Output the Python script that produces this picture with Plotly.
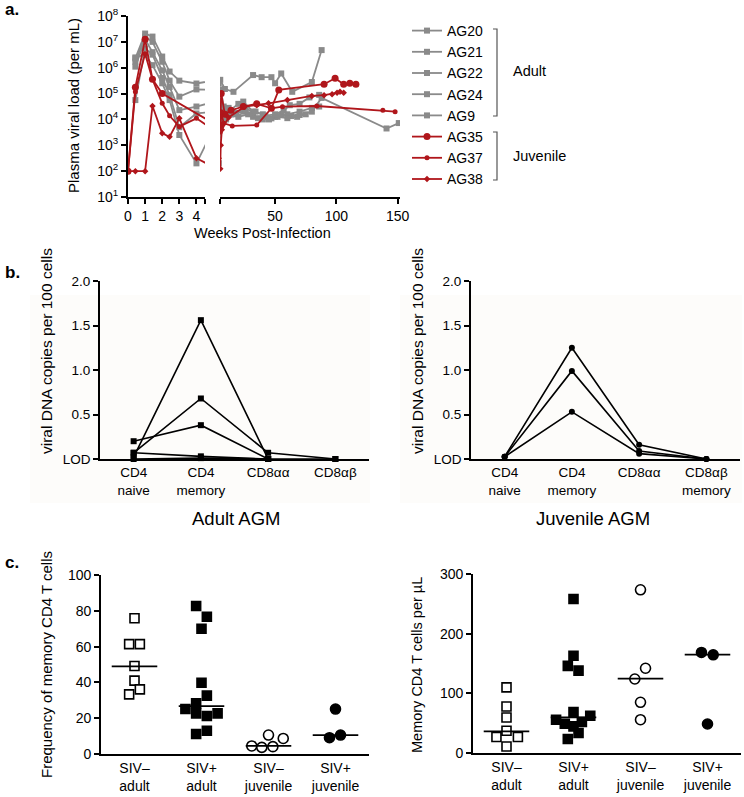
import plotly.graph_objects as go

W, H = 744, 797


def px(x):
    return x / W


def py(y):
    return 1 - y / H


FONT = "Liberation Sans, Arial, Helvetica, sans-serif"
GRAY = "#8a8a8a"
RED = "#b0161b"

# ---------------- Panel a: plasma viral load ----------------
animals_a = ["AG20", "AG21", "AG22", "AG24", "AG9", "AG35", "AG37", "AG38"]

weeks_AG20 = [0.43, 1, 1.43, 2, 2.43, 3, 4, 5.2, 9, 16, 32, 39, 47, 50, 55, 64, 80, 88]
load_AG20 = [2.3e6, 2.1e7, 1.6e7, 2.7e6, 7.1e5, 3.16e5, 2.45e5, 3.4e5, 1.5e5, 1.17e5,
             5.2e5, 4.3e5, 4.3e5, 2.5e5, 6e5, 1.17e5, 2.8e5, 4.8e6]

weeks_AG21 = [0.43, 1, 1.43, 2, 2.43, 3, 4, 5.2, 8, 12, 20, 24, 32, 40, 47, 55, 63, 70, 80, 88, 141, 151]
load_AG21 = [1.7e6, 1.6e7, 1e7, 1.7e6, 3.16e5, 7.6e4, 1.45e5, 1.38e5, 3.16e4, 2e4, 4e4, 4.9e4,
             2e4, 1.58e4, 1.1e4, 1.48e4, 1.35e4, 1.48e4, 2e4, 6.8e4, 4.47e3, 7.24e3]

weeks_AG22 = [0.43, 1, 1.43, 2, 2.43, 3, 4, 5.2, 10, 16, 24, 32, 40, 50, 60, 70, 80, 86]
load_AG22 = [1.1e6, 1.26e7, 4e6, 7.9e5, 1.8e5, 2.29e4, 3.16e4, 5.1e4, 1e4, 1.58e4, 2e4,
             1.26e4, 1e4, 1.26e4, 1.58e4, 2e4, 2.8e4, 3.16e4]

weeks_AG24 = [0.43, 1, 1.43, 2, 2.43, 3, 4, 5.2, 9, 14, 20, 28, 36, 45, 52, 60, 68, 75]
load_AG24 = [5.6e4, 5.6e6, 3.2e6, 4e5, 8.7e4, 5e3, 1.7e4, 2e4, 2.5e4, 1.58e4, 1.26e4,
             1.58e4, 1.12e4, 1e4, 1.26e4, 1.12e4, 1.26e4, 1.58e4]

weeks_AG9 = [0.43, 1, 1.43, 2, 2.43, 3, 4, 5.2, 7, 12, 18, 26, 34, 42, 50, 57, 62, 70, 78, 86]
load_AG9 = [2.5e6, 3.2e6, 1.26e6, 2.5e5, 5.6e4, 2.5e3, 200, 8.13e3, 1.58e4, 2.8e4, 1.78e4,
            2.5e4, 2e4, 1.41e4, 1.58e4, 2.24e4, 3.55e4, 4e4, 7.1e4, 8.9e4]

weeks_AG35 = [0, 0.43, 1, 1.43, 2, 5.2, 6, 9, 14, 24, 35, 47, 53, 90, 99, 106, 111, 116]
load_AG35 = [100, 1.74e5, 1.26e7, 3.55e5, 1e5, 5.89e3, 1e5, 1.58e4, 2.24e4, 3.16e4, 4e4,
             2.7e4, 1.38e5, 2.3e5, 3.9e5, 2.3e5, 2.5e5, 2.3e5]

weeks_AG37 = [0, 0.43, 1, 1.43, 2, 2.43, 3, 4, 5.2, 6, 8, 15, 35, 47, 56, 84, 138, 148]
load_AG37 = [100, 1.17e5, 3.5e6, 3.55e5, 4.2e4, 1.38e4, 5.25e3, 1.1e4, 3.24e3, 2e4, 7.08e3,
             5.62e3, 6.03e3, 2.7e4, 3.1e4, 3.3e4, 2.24e4, 2e4]

weeks_AG38 = [0, 0.43, 1, 1.43, 2, 2.43, 3, 4, 5.2, 5.6, 6.5, 12, 25, 35, 44.6, 60, 80, 90,
              96.5, 100.6, 103, 106]
load_AG38 = [100, 100, 100, 3.3e4, 2.9e3, 2.14e3, 1.1e4, 316, 123, 1000, 4000, 1.2e4, 3.1e4,
             3.55e4, 4.2e4, 5.6e4, 8.1e4, 8.7e4, 9.5e4, 1.07e5, 1.17e5, 1.07e5]

weeks_a = [weeks_AG20, weeks_AG21, weeks_AG22, weeks_AG24, weeks_AG9, weeks_AG35, weeks_AG37, weeks_AG38]
loads_a = [load_AG20, load_AG21, load_AG22, load_AG24, load_AG9, load_AG35, load_AG37, load_AG38]

a_yticks = [1e1, 1e2, 1e3, 1e4, 1e5, 1e6, 1e7, 1e8]
a_ytick_text = ["10<sup>%d</sup>" % i for i in range(1, 9)]
a_xticks_left = [0, 1, 2, 3, 4, 4.5]
a_xtick_text_left = ["0", "1", "2", "3", "4", ""]
a_xticks_right = [5, 50, 100, 150]
a_xtick_text_right = ["", "50", "100", "150"]

# ---------------- Panel b: viral DNA ----------------
b_cats_adult = ["CD4<br>naive", "CD4<br>memory", "CD8αα", "CD8αβ"]
b_cats_juv = ["CD4<br>naive", "CD4<br>memory", "CD8αα", "CD8αβ<br>memory"]
b_adult_1 = [0.02, 1.56, 0.0, None]
b_adult_2 = [0.07, 0.68, 0.07, 0.0]
b_adult_3 = [0.20, 0.38, 0.0, None]
b_adult_4 = [0.07, 0.03, 0.0, None]
b_adult_5 = [0.0, 0.01, 0.0, 0.0]
b_juv_1 = [0.025, 1.25, 0.16, 0.0]
b_juv_2 = [0.025, 0.99, 0.09, 0.0]
b_juv_3 = [0.025, 0.53, 0.06, 0.0]
b_yticks = [0, 0.5, 1.0, 1.5, 2.0]
b_ytick_text = ["LOD", "0.5", "1.0", "1.5", "2.0"]

# ---------------- Panel c: memory CD4 ----------------
c_cats = ["SIV–<br>adult", "SIV+<br>adult", "SIV–<br>juvenile", "SIV+<br>juvenile"]
c_freq_neg_adult = [75.8, 61.4, 61.4, 49.2, 41.0, 36.1, 33.3]
c_freq_pos_adult = [82.7, 76.7, 70.0, 39.8, 32.6, 28.3, 25.1, 22.7, 21.2, 22.7, 11.2, 13.0]
c_freq_neg_juv = [4.5, 3.7, 4.1, 10.6, 8.7]
c_freq_pos_juv = [25.1, 9.1, 10.6]
c_freq_medians = [49.0, 26.8, 4.5, 10.6]

c_cnt_neg_adult = [110, 78, 59.6, 37.3, 26.8, 26.8, 11]
c_cnt_pos_adult = [258, 163, 146, 138, 68.6, 55.8, 62.5, 49, 52, 44.6, 33.5, 23.4]
c_cnt_neg_juv = [273.5, 142, 124, 85, 55.8]
c_cnt_pos_juv = [168.5, 164.6, 48.6]
c_cnt_medians = [36.2, 59.6, 124.5, 165]

# horizontal scatter offsets (layout only)
off_freq = [
    [0, -0.08, 0.08, 0, 0, 0.08, -0.08],
    [-0.08, 0.08, 0, 0, 0.08, -0.08, -0.24, -0.08, 0.08, 0.24, -0.08, 0.08],
    [-0.25, -0.1, 0.065, 0, 0.22],
    [0, -0.09, 0.075],
]
off_cnt = [
    [0, 0, 0, 0, -0.15, 0.17, 0],
    [0, 0, -0.085, 0.075, 0, -0.26, 0.25, -0.13, 0.125, 0, 0.075, -0.085],
    [0, 0.075, -0.085, 0, 0],
    [-0.09, 0.085, 0],
]

fig = go.Figure()

# ----- panel a traces -----
styles = {
    "AG20": dict(color=GRAY, symbol="square", size=6),
    "AG21": dict(color=GRAY, symbol="square", size=6),
    "AG22": dict(color=GRAY, symbol="square", size=6),
    "AG24": dict(color=GRAY, symbol="square", size=6),
    "AG9": dict(color=GRAY, symbol="square", size=6),
    "AG35": dict(color=RED, symbol="circle", size=7),
    "AG37": dict(color=RED, symbol="circle", size=5),
    "AG38": dict(color=RED, symbol="diamond", size=5),
}
for name, wk, ld in zip(animals_a, weeks_a, loads_a):
    st = styles[name]
    for xa, show in (("x", True), ("x2", False)):
        fig.add_trace(go.Scatter(
            x=wk, y=ld, mode="lines+markers", name=name, legendgroup=name,
            showlegend=show, xaxis=xa, yaxis="y",
            line=dict(color=st["color"], width=1.8),
            marker=dict(color=st["color"], symbol=st["symbol"], size=st["size"]),
            cliponaxis=True,
        ))

# ----- panel b traces -----
for vals in (b_adult_1, b_adult_2, b_adult_3, b_adult_4, b_adult_5):
    fig.add_trace(go.Scatter(
        x=list(range(4)), y=vals, mode="lines+markers", showlegend=False,
        xaxis="x3", yaxis="y3", connectgaps=False, cliponaxis=False,
        line=dict(color="black", width=1.6),
        marker=dict(color="black", symbol="square", size=6),
    ))
for vals in (b_juv_1, b_juv_2, b_juv_3):
    fig.add_trace(go.Scatter(
        x=list(range(4)), y=vals, mode="lines+markers", showlegend=False,
        xaxis="x4", yaxis="y4", cliponaxis=False,
        line=dict(color="black", width=1.6),
        marker=dict(color="black", symbol="circle", size=6),
    ))

# ----- panel c traces -----
c_symbols = ["square", "square", "circle", "circle"]
c_fill = ["white", "black", "white", "black"]


def add_c(groups, offsets, medians, xa, ya):
    for i, (vals, offs) in enumerate(zip(groups, offsets)):
        fig.add_trace(go.Scatter(
            x=[i + o for o in offs], y=vals, mode="markers", showlegend=False,
            xaxis=xa, yaxis=ya, cliponaxis=False,
            marker=dict(symbol=c_symbols[i], size=9 if c_symbols[i] == "square" else 10,
                        color=c_fill[i], line=dict(color="black", width=1.6)),
        ))
        fig.add_trace(go.Scatter(
            x=[i - 0.34, i + 0.34], y=[medians[i], medians[i]], mode="lines",
            showlegend=False, xaxis=xa, yaxis=ya,
            line=dict(color="black", width=1.8),
        ))


add_c([c_freq_neg_adult, c_freq_pos_adult, c_freq_neg_juv, c_freq_pos_juv],
      off_freq, c_freq_medians, "x5", "y5")
add_c([c_cnt_neg_adult, c_cnt_pos_adult, c_cnt_neg_juv, c_cnt_pos_juv],
      off_cnt, c_cnt_medians, "x6", "y6")

axis_common = dict(showline=True, linecolor="black", linewidth=1.8, showgrid=False,
                   zeroline=False, ticks="outside", ticklen=5, tickwidth=1.5,
                   tickcolor="black", automargin=False,
                   tickfont=dict(family=FONT, size=14, color="black"))
b_tick = dict(family=FONT, size=13.5, color="black")
c_tick = dict(family=FONT, size=14, color="black")
cat_axis = dict(axis_common, ticks="")

fig.update_layout(
    width=W, height=H, margin=dict(l=0, r=0, t=0, b=0),
    paper_bgcolor="white", plot_bgcolor="rgba(0,0,0,0)",
    font=dict(family=FONT, color="black"),
    xaxis=dict(axis_common, domain=[px(128), px(205)], range=[0, 4.5], anchor="y",
               tickvals=a_xticks_left, ticktext=a_xtick_text_left),
    xaxis2=dict(axis_common, domain=[px(220), px(400)], range=[5, 152], anchor="y",
                tickvals=a_xticks_right, ticktext=a_xtick_text_right),
    yaxis=dict(axis_common, domain=[py(197), py(16)], type="log", range=[1, 8], anchor="x",
               tickvals=a_yticks, ticktext=a_ytick_text),
    xaxis3=dict(cat_axis, domain=[px(100), px(369)], range=[-0.5, 3.5], anchor="y3",
                tickvals=list(range(4)), ticktext=b_cats_adult, tickfont=b_tick),
    yaxis3=dict(axis_common, domain=[py(459), py(281)], range=[0, 2], anchor="x3",
                tickvals=b_yticks, ticktext=b_ytick_text, tickfont=b_tick),
    xaxis4=dict(cat_axis, domain=[px(471), px(740)], range=[-0.5, 3.5], anchor="y4",
                tickvals=list(range(4)), ticktext=b_cats_juv, tickfont=b_tick),
    yaxis4=dict(axis_common, domain=[py(459), py(281)], range=[0, 2], anchor="x4",
                tickvals=b_yticks, ticktext=b_ytick_text, tickfont=b_tick),
    xaxis5=dict(cat_axis, domain=[px(101), px(369)], range=[-0.5, 3.5], anchor="y5",
                tickvals=list(range(4)), ticktext=c_cats, tickfont=c_tick),
    yaxis5=dict(axis_common, domain=[py(754), py(575)], range=[0, 100], anchor="x5",
                tickvals=[0, 20, 40, 60, 80, 100], tickfont=c_tick),
    xaxis6=dict(cat_axis, domain=[px(473), px(741)], range=[-0.5, 3.5], anchor="y6",
                tickvals=list(range(4)), ticktext=c_cats, tickfont=c_tick),
    yaxis6=dict(axis_common, domain=[py(753), py(574)], range=[0, 300], anchor="x6",
                tickvals=[0, 100, 200, 300], tickfont=c_tick),
    legend=dict(x=px(407), y=py(15), xanchor="left", yanchor="top",
                font=dict(family=FONT, size=14, color="black"),
                bgcolor="rgba(0,0,0,0)", itemwidth=30, tracegroupgap=0),
)

# very light background boxes behind panel b
for x0, x1 in ((30, 370), (400, 742)):
    fig.add_shape(type="rect", xref="paper", yref="paper", x0=px(x0), x1=px(x1),
                  y0=py(503), y1=py(295), fillcolor="#fdfcfa", line=dict(width=0),
                  layer="below")

# legend brackets
for ytop, ybot in ((29, 116), (132, 180)):
    fig.add_shape(type="path", xref="paper", yref="paper",
                  path="M %f %f L %f %f L %f %f L %f %f" % (
                      px(493), py(ytop), px(497), py(ytop), px(497), py(ybot), px(493), py(ybot)),
                  line=dict(color="#555555", width=1.2))


def ann(text, x, y, size=13, angle=0, bold=False, xanchor="center"):
    fig.add_annotation(text=("<b>%s</b>" % text) if bold else text,
                       x=px(x), y=py(y), xref="paper", yref="paper",
                       showarrow=False, textangle=angle, xanchor=xanchor, yanchor="middle",
                       font=dict(family=FONT, size=size, color="black"))


ann("Adult", 511, 71, 14.5, xanchor="left")
ann("Juvenile", 511, 156, 14.5, xanchor="left")
ann("a.", 3, 10, 17, bold=True, xanchor="left")
ann("b.", 3, 272, 17, bold=True, xanchor="left")
ann("c.", 3, 562, 17, bold=True, xanchor="left")
ann("Plasma viral load (per mL)", 74, 106, 15, angle=-90)
ann("Weeks Post-Infection", 262, 233, 14.5)
ann("viral DNA copies per 100 cells", 46, 351, 15.5, angle=-90)
ann("viral DNA copies per 100 cells", 417, 351, 15.5, angle=-90)
ann("Adult AGM", 236, 518, 18.5)
ann("Juvenile AGM", 593, 518, 18.5)
ann("Frequency of memory CD4 T cells", 46, 665, 15, angle=-90)
ann("Memory CD4 T cells per µL", 417, 665, 14.5, angle=-90)

fig.write_html("out.html", config={"displayModeBar": False},
               post_script="document.body.style.margin='0';")
